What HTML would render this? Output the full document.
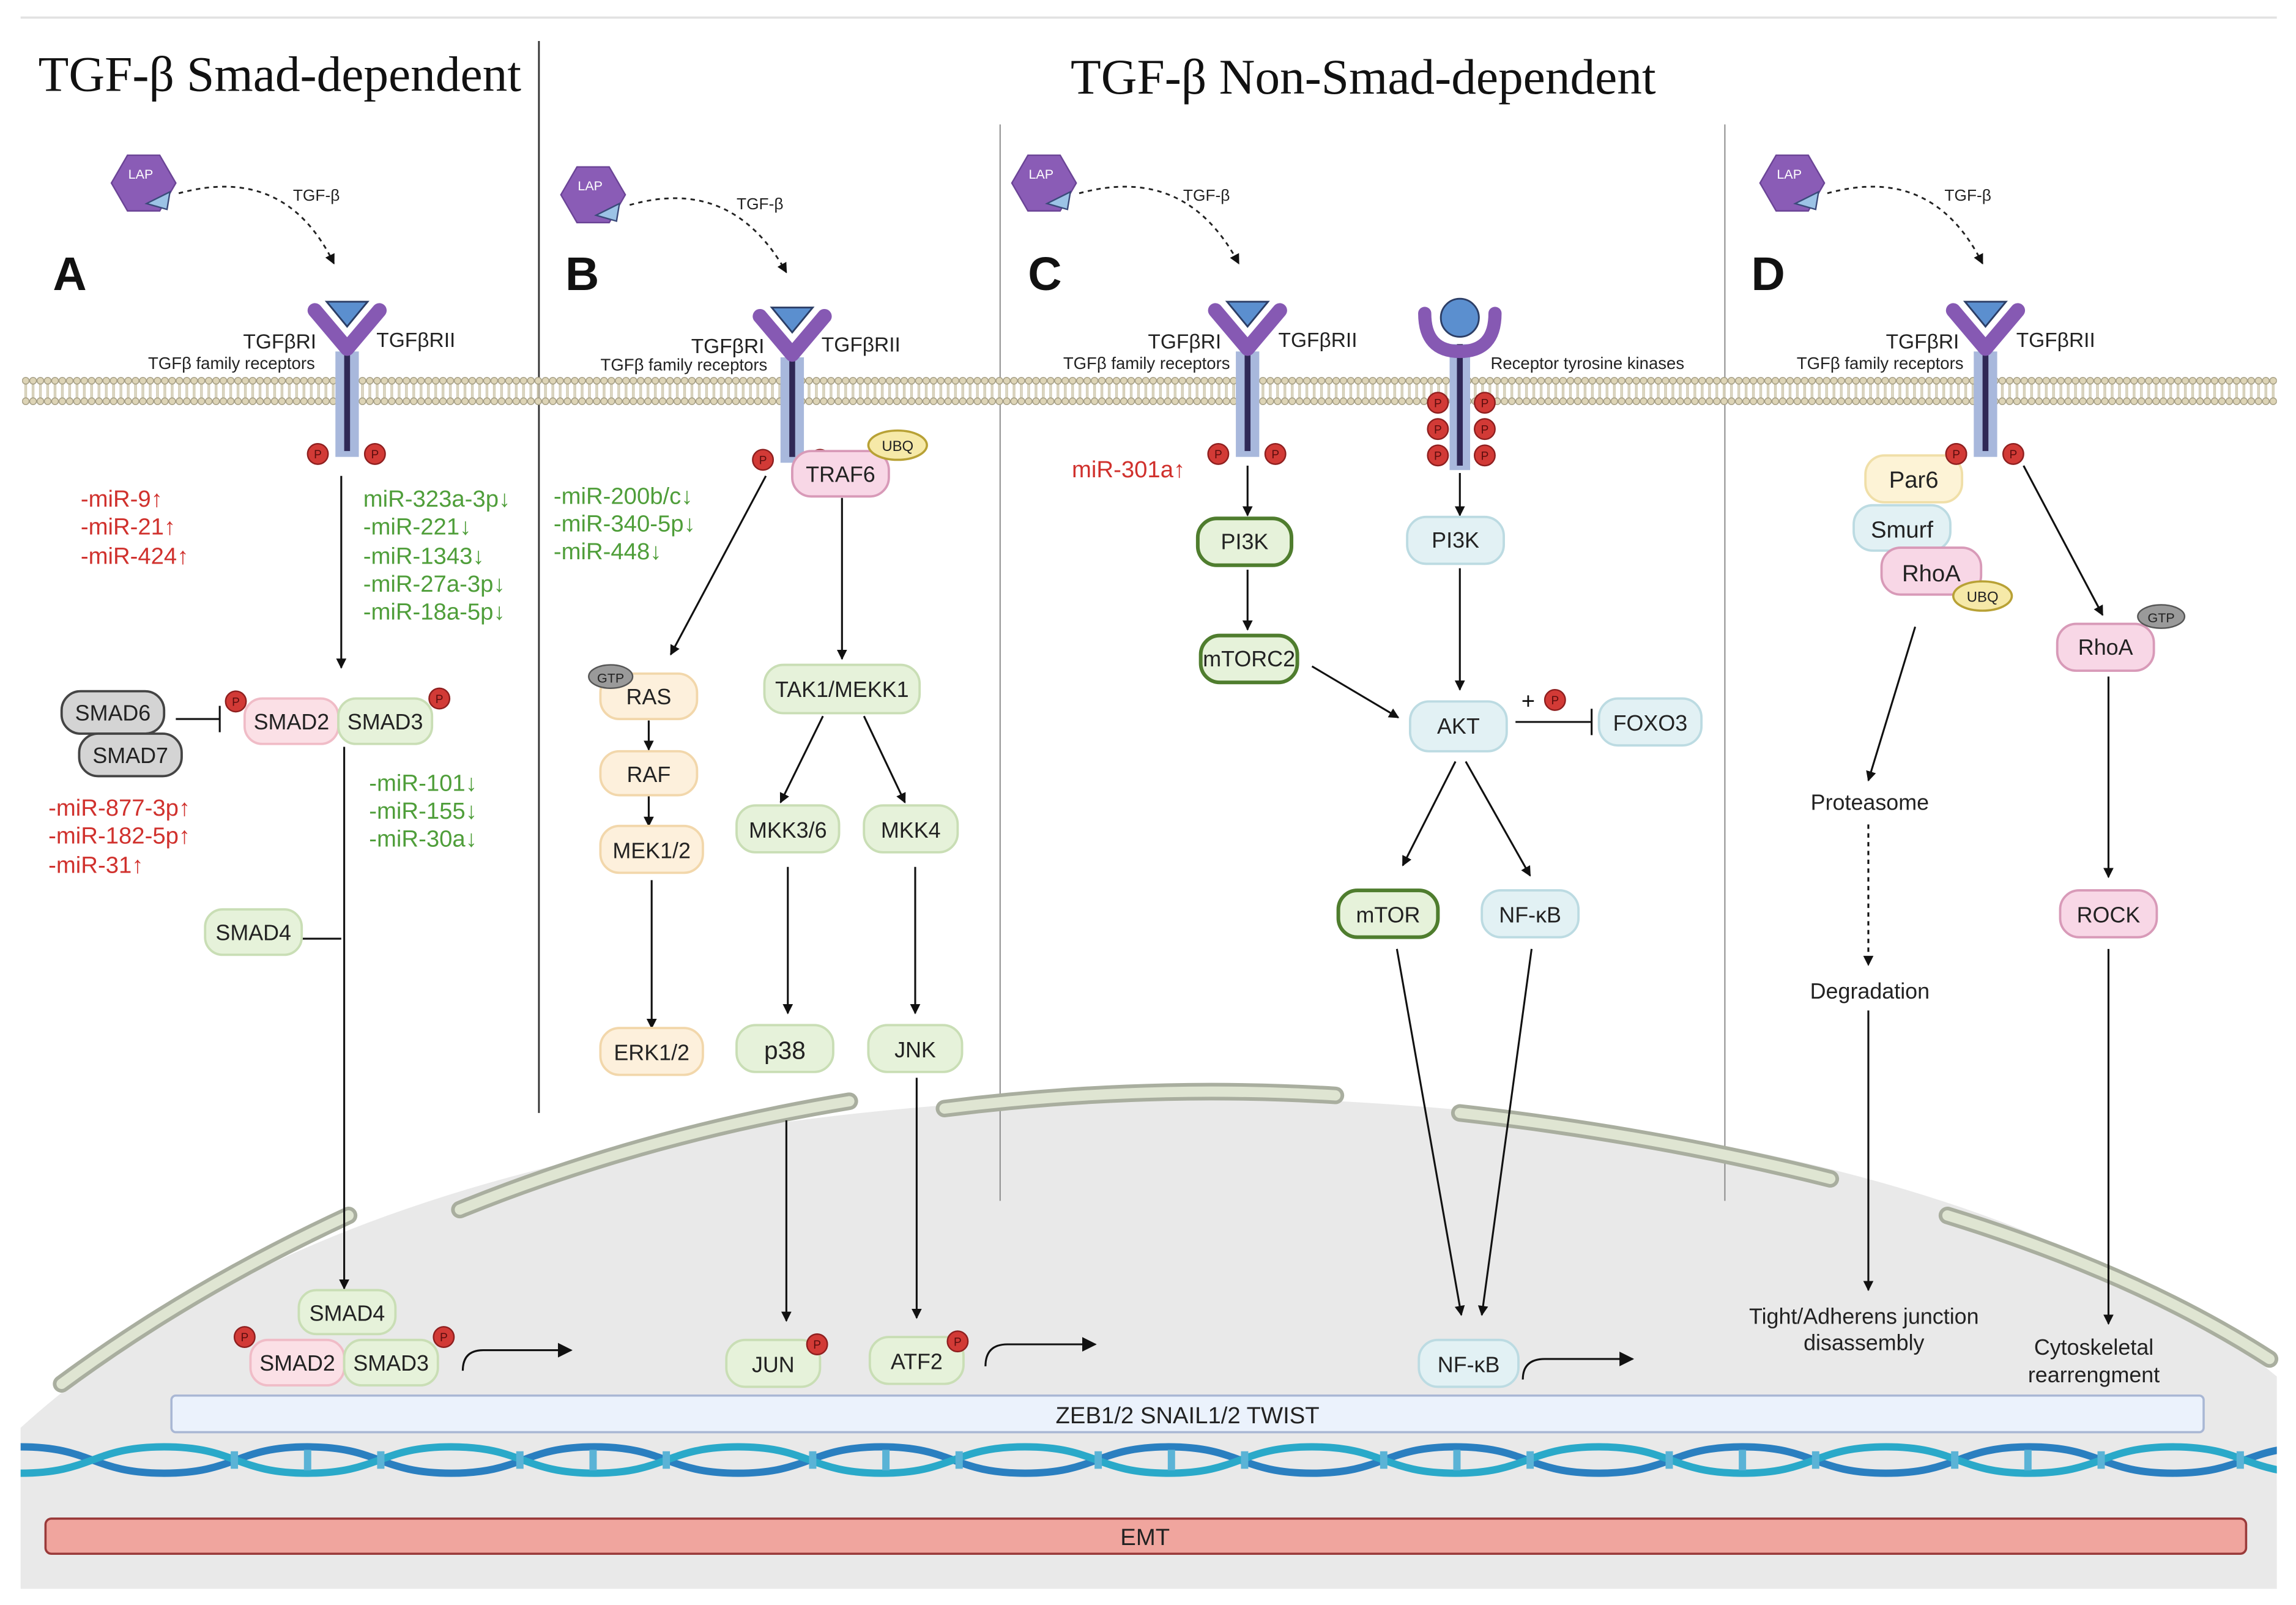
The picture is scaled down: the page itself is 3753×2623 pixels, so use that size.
<!DOCTYPE html>
<html><head><meta charset="utf-8"><style>
html,body{margin:0;padding:0;background:#fff}
svg{display:block}
text{font-family:"Liberation Sans",sans-serif}
</style></head><body>
<svg width="3753" height="2623" viewBox="0 0 1568 1096" xmlns="http://www.w3.org/2000/svg">
<defs>
<marker id="ah" viewBox="0 0 10 10" refX="9" refY="5" markerWidth="7" markerHeight="7" markerUnits="userSpaceOnUse" orient="auto"><path d="M0,0 L10,5 L0,10 z" fill="#111"/></marker>
<marker id="ah2" viewBox="0 0 10 10" refX="9" refY="5" markerWidth="10" markerHeight="10" markerUnits="userSpaceOnUse" orient="auto"><path d="M0,0 L10,5 L0,10 z" fill="#111"/></marker>
<pattern id="memb" x="0" y="257" width="5" height="20" patternUnits="userSpaceOnUse">
<line x1="2" y1="5" x2="2" y2="15" stroke="#cfc8ae" stroke-width="0.8"/>
<line x1="3" y1="5" x2="3" y2="15" stroke="#cfc8ae" stroke-width="0.8"/>
<circle cx="2.5" cy="3" r="2.3" fill="#ddd4b6" stroke="#a39c82" stroke-width="0.6"/>
<circle cx="2.5" cy="17" r="2.3" fill="#ddd4b6" stroke="#a39c82" stroke-width="0.6"/>
</pattern>
<g id="lap">
<polygon points="-22,0 -11,-19 11,-19 22,0 11,19 -11,19" fill="#8a5cb6" stroke="#6b4496" stroke-width="1"/>
<polygon points="2,14 18,6 16,18" fill="#9cc3e6" stroke="#3b4a7a" stroke-width="1"/>
<text x="-2" y="-3" font-size="9" fill="#fff" text-anchor="middle">LAP</text>
</g>
<g id="p"><circle r="7" fill="#d23a36" stroke="#8e1f1f" stroke-width="1"/><text y="3" font-size="8" text-anchor="middle" fill="#5a0d0d">P</text></g>
<g id="rec">
<rect x="-8" y="32" width="16" height="72" fill="#a8b8dc"/>
<line x1="0" y1="32" x2="0" y2="100" stroke="#2f2856" stroke-width="4"/>
<path d="M-22,4 L0,30 L22,4" fill="none" stroke="#8659b3" stroke-width="10" stroke-linejoin="round" stroke-linecap="round"/>
<polygon points="-14,-2 14,-2 0,15" fill="#5b8fcf" stroke="#2c3e66" stroke-width="1.2"/>
<use href="#p" x="-20" y="102"/><use href="#p" x="19" y="102"/>
</g>
</defs>

<line x1="14" y1="12" x2="1555" y2="12" stroke="#e2e2e2" stroke-width="1.5"/>

<path d="M14,1085 L14,975 Q 250,760 780,748 Q 1330,752 1555,940 L1555,1085 Z" fill="#e9e9e9"/>

<line x1="368" y1="28" x2="368" y2="760" stroke="#333" stroke-width="1.2"/>
<line x1="683" y1="85" x2="683" y2="820" stroke="#888" stroke-width="0.8"/>
<line x1="1178" y1="85" x2="1178" y2="820" stroke="#888" stroke-width="0.8"/>

<g fill="none" stroke-linecap="round">
<g stroke="#a9ae9f" stroke-width="12">
<path d="M42,945 Q 130,880 238,830"/>
<path d="M314,826 Q 440,775 580,752"/>
<path d="M645,757 Q 780,740 912,748"/>
<path d="M997,760 Q 1130,775 1250,805"/>
<path d="M1330,830 Q 1460,870 1550,928"/>
</g>
<g stroke="#dfe5d2" stroke-width="7">
<path d="M42,945 Q 130,880 238,830"/>
<path d="M314,826 Q 440,775 580,752"/>
<path d="M645,757 Q 780,740 912,748"/>
<path d="M997,760 Q 1130,775 1250,805"/>
<path d="M1330,830 Q 1460,870 1550,928"/>
</g>
</g>

<rect x="15" y="257" width="1540" height="20" fill="url(#memb)"/>

<text x="191" y="62" font-size="34" text-anchor="middle" fill="#111" style="font-family:'Liberation Serif',serif">TGF-β Smad-dependent</text>
<text x="931" y="64" font-size="34" text-anchor="middle" fill="#111" style="font-family:'Liberation Serif',serif">TGF-β Non-Smad-dependent</text>
<g font-size="32" font-weight="bold" fill="#111" style="font-family:'Liberation Serif',serif">
<text x="36" y="198">A</text><text x="386" y="198">B</text><text x="702" y="198">C</text><text x="1196" y="198">D</text>
</g>

<g font-size="11" fill="#222">
<use href="#lap" x="98" y="125"/>
<path d="M122,132 Q 195,112 228,180" fill="none" stroke="#222" stroke-dasharray="3,3" stroke-width="1.2" marker-end="url(#ah)"/>
<text x="200" y="137">TGF-β</text>
<use href="#lap" x="405" y="133"/>
<path d="M430,140 Q 500,120 537,186" fill="none" stroke="#222" stroke-dasharray="3,3" stroke-width="1.2" marker-end="url(#ah)"/>
<text x="503" y="143">TGF-β</text>
<use href="#lap" x="713" y="125"/>
<path d="M737,132 Q 810,112 846,180" fill="none" stroke="#222" stroke-dasharray="3,3" stroke-width="1.2" marker-end="url(#ah)"/>
<text x="808" y="137">TGF-β</text>
<use href="#lap" x="1224" y="125"/>
<path d="M1248,132 Q 1320,112 1354,180" fill="none" stroke="#222" stroke-dasharray="3,3" stroke-width="1.2" marker-end="url(#ah)"/>
<text x="1328" y="137">TGF-β</text>
</g>

<use href="#rec" x="237" y="208"/>
<use href="#rec" x="541" y="212"/>
<use href="#rec" x="852" y="208"/>
<use href="#rec" x="1356" y="208"/>
<g fill="#222">
<text x="216" y="238" font-size="14" text-anchor="end">TGFβRI</text><text x="257" y="237" font-size="14">TGFβRII</text>
<text x="215" y="252" font-size="11.5" text-anchor="end">TGFβ family receptors</text>
<text x="522" y="241" font-size="14" text-anchor="end">TGFβRI</text><text x="561" y="240" font-size="14">TGFβRII</text>
<text x="524" y="253" font-size="11.5" text-anchor="end">TGFβ family receptors</text>
<text x="834" y="238" font-size="14" text-anchor="end">TGFβRI</text><text x="873" y="237" font-size="14">TGFβRII</text>
<text x="840" y="252" font-size="11.5" text-anchor="end">TGFβ family receptors</text>
<text x="1338" y="238" font-size="14" text-anchor="end">TGFβRI</text><text x="1377" y="237" font-size="14">TGFβRII</text>
<text x="1341" y="252" font-size="11.5" text-anchor="end">TGFβ family receptors</text>
<text x="1018" y="252" font-size="11.5">Receptor tyrosine kinases</text>
</g>
<g>
<rect x="990" y="235" width="14" height="86" fill="#a8b8dc"/>
<line x1="997" y1="235" x2="997" y2="318" stroke="#2f2856" stroke-width="4"/>
<path d="M973,214 Q 973,240 997,240 Q 1021,240 1021,214" fill="none" stroke="#8659b3" stroke-width="9" stroke-linecap="round"/>
<circle cx="997" cy="217" r="13" fill="#5b8fcf" stroke="#2c3e66" stroke-width="1.2"/>
<use href="#p" x="982" y="275"/><use href="#p" x="1014" y="275"/>
<use href="#p" x="982" y="293"/><use href="#p" x="1014" y="293"/>
<use href="#p" x="982" y="311"/><use href="#p" x="1014" y="311"/>
</g>

<g stroke="#111" stroke-width="1.3" fill="none" marker-end="url(#ah)">
<line x1="233" y1="325" x2="233" y2="456"/>
<line x1="235" y1="510" x2="235" y2="880"/>
<line x1="523" y1="325" x2="458" y2="447"/>
<line x1="575" y1="340" x2="575" y2="450"/>
<line x1="443" y1="492" x2="443" y2="512"/>
<line x1="443" y1="543" x2="443" y2="564"/>
<line x1="445" y1="601" x2="445" y2="702"/>
<line x1="562" y1="489" x2="533" y2="548"/>
<line x1="590" y1="489" x2="618" y2="548"/>
<line x1="538" y1="592" x2="538" y2="692"/>
<line x1="625" y1="592" x2="625" y2="692"/>
<line x1="537" y1="765" x2="537" y2="902"/>
<line x1="626" y1="736" x2="626" y2="900"/>
<line x1="852" y1="318" x2="852" y2="352"/>
<line x1="852" y1="389" x2="852" y2="430"/>
<line x1="896" y1="455" x2="955" y2="490"/>
<line x1="997" y1="323" x2="997" y2="352"/>
<line x1="997" y1="388" x2="997" y2="471"/>
<line x1="994" y1="520" x2="958" y2="591"/>
<line x1="1001" y1="520" x2="1045" y2="598"/>
<line x1="954" y1="648" x2="998" y2="898"/>
<line x1="1046" y1="648" x2="1012" y2="898"/>
<line x1="1308" y1="428" x2="1276" y2="533"/>
<line x1="1276" y1="563" x2="1276" y2="659" stroke-dasharray="3,3"/>
<line x1="1276" y1="690" x2="1276" y2="881"/>
<line x1="1382" y1="318" x2="1436" y2="420"/>
<line x1="1440" y1="462" x2="1440" y2="599"/>
<line x1="1440" y1="648" x2="1440" y2="904"/>
</g>
<g stroke="#111" stroke-width="1.3" fill="none" marker-end="url(#ah2)">
<path d="M316,936 Q 316,922 330,922 L390,922"/>
<path d="M673,933 Q 673,918 688,918 L748,918"/>
<path d="M1040,942 Q 1040,928 1055,928 L1115,928"/>
</g>
<g stroke="#111" stroke-width="1.3">
<line x1="120" y1="491" x2="150" y2="491"/><line x1="150" y1="482" x2="150" y2="500"/>
<line x1="205" y1="641" x2="233" y2="641"/>
<line x1="1035" y1="493" x2="1087" y2="493"/><line x1="1087" y1="484" x2="1087" y2="502"/>
</g>
<text x="1039" y="484" font-size="16" fill="#111">+</text>
<use href="#p" x="1062" y="478"/>

<g font-size="15" text-anchor="middle" fill="#222" stroke-width="1.6">
<rect x="42" y="472" width="70" height="29" rx="13" fill="#d4d4d4" stroke="#444"/>
<text x="77" y="492">SMAD6</text>
<rect x="54" y="501" width="70" height="29" rx="13" fill="#d4d4d4" stroke="#444"/>
<text x="89" y="521">SMAD7</text>
<rect x="167" y="477" width="64" height="31" rx="12" fill="#fbe0e6" stroke="#f0bcc7"/>
<text x="199" y="498">SMAD2</text>
<rect x="231" y="477" width="64" height="31" rx="12" fill="#e6f2da" stroke="#c9deb5"/>
<text x="263" y="498">SMAD3</text>
<rect x="140" y="621" width="66" height="31" rx="12" fill="#e6f2da" stroke="#c9deb5"/>
<text x="173" y="642">SMAD4</text>
<rect x="204" y="881" width="66" height="30" rx="12" fill="#e6f2da" stroke="#c9deb5"/>
<text x="237" y="902">SMAD4</text>
<rect x="171" y="915" width="64" height="31" rx="12" fill="#fbe0e6" stroke="#f0bcc7"/>
<text x="203" y="936">SMAD2</text>
<rect x="235" y="915" width="64" height="31" rx="12" fill="#e6f2da" stroke="#c9deb5"/>
<text x="267" y="936">SMAD3</text>
<rect x="541" y="308" width="66" height="31" rx="13" fill="#f8d7e6" stroke="#d89ab8"/>
<text x="574" y="329">TRAF6</text>
<rect x="410" y="460" width="66" height="31" rx="13" fill="#fdf0dc" stroke="#f2d7ab"/>
<text x="443" y="481">RAS</text>
<rect x="410" y="513" width="66" height="30" rx="13" fill="#fdf0dc" stroke="#f2d7ab"/>
<text x="443" y="534">RAF</text>
<rect x="410" y="564" width="70" height="32" rx="13" fill="#fdf0dc" stroke="#f2d7ab"/>
<text x="445" y="586">MEK1/2</text>
<rect x="410" y="702" width="70" height="32" rx="13" fill="#fdf0dc" stroke="#f2d7ab"/>
<text x="445" y="724">ERK1/2</text>
<rect x="522" y="454" width="106" height="33" rx="13" fill="#e6f2da" stroke="#c9deb5"/>
<text x="575" y="476">TAK1/MEKK1</text>
<rect x="503" y="550" width="70" height="32" rx="13" fill="#e6f2da" stroke="#c9deb5"/>
<text x="538" y="572">MKK3/6</text>
<rect x="590" y="550" width="64" height="32" rx="13" fill="#e6f2da" stroke="#c9deb5"/>
<text x="622" y="572">MKK4</text>
<rect x="503" y="700" width="66" height="32" rx="13" fill="#e6f2da" stroke="#c9deb5"/>
<text x="536" y="723" font-size="17">p38</text>
<rect x="593" y="700" width="64" height="32" rx="13" fill="#e6f2da" stroke="#c9deb5"/>
<text x="625" y="722">JNK</text>
<rect x="496" y="915" width="64" height="32" rx="13" fill="#e6f2da" stroke="#c9deb5"/>
<text x="528" y="937">JUN</text>
<rect x="594" y="913" width="64" height="32" rx="13" fill="#e6f2da" stroke="#c9deb5"/>
<text x="626" y="935">ATF2</text>
<rect x="818" y="354" width="64" height="32" rx="13" fill="#e6f2da" stroke="#4f7d2e" stroke-width="2.5"/>
<text x="850" y="375">PI3K</text>
<rect x="820" y="434" width="66" height="32" rx="13" fill="#e6f2da" stroke="#4f7d2e" stroke-width="2.5"/>
<text x="853" y="455">mTORC2</text>
<rect x="914" y="608" width="68" height="32" rx="13" fill="#e6f2da" stroke="#4f7d2e" stroke-width="2.5"/>
<text x="948" y="630">mTOR</text>
<rect x="961" y="353" width="66" height="32" rx="13" fill="#e2f1f4" stroke="#bcdbe2"/>
<text x="994" y="374">PI3K</text>
<rect x="963" y="479" width="66" height="34" rx="13" fill="#e2f1f4" stroke="#bcdbe2"/>
<text x="996" y="501">AKT</text>
<rect x="1092" y="477" width="70" height="32" rx="13" fill="#e2f1f4" stroke="#bcdbe2"/>
<text x="1127" y="499">FOXO3</text>
<rect x="1012" y="608" width="66" height="32" rx="13" fill="#e2f1f4" stroke="#bcdbe2"/>
<text x="1045" y="630">NF-κB</text>
<rect x="969" y="915" width="68" height="32" rx="13" fill="#e2f1f4" stroke="#bcdbe2"/>
<text x="1003" y="937">NF-κB</text>
<rect x="1274" y="311" width="66" height="32" rx="13" fill="#fdf3d6" stroke="#f0dfa8"/>
<text x="1307" y="333" font-size="16">Par6</text>
<rect x="1266" y="345" width="66" height="31" rx="13" fill="#e2f1f4" stroke="#bcdbe2"/>
<text x="1299" y="367" font-size="16">Smurf</text>
<rect x="1285" y="374" width="68" height="32" rx="13" fill="#f8d7e6" stroke="#d89ab8"/>
<text x="1319" y="397" font-size="16">RhoA</text>
<rect x="1405" y="426" width="66" height="32" rx="13" fill="#f8d7e6" stroke="#d89ab8"/>
<text x="1438" y="447">RhoA</text>
<rect x="1407" y="608" width="66" height="32" rx="13" fill="#f8d7e6" stroke="#d89ab8"/>
<text x="1440" y="630">ROCK</text>
</g>
<g font-size="10" text-anchor="middle" fill="#222">
<ellipse cx="613" cy="304" rx="20" ry="10" fill="#f6e9a8" stroke="#b8a135" stroke-width="1.5"/><text x="613" y="308">UBQ</text>
<ellipse cx="1354" cy="407" rx="20" ry="10" fill="#f6e9a8" stroke="#b8a135" stroke-width="1.5"/><text x="1354" y="411">UBQ</text>
<ellipse cx="417" cy="462" rx="15" ry="8" fill="#9a9a9a" stroke="#555"/><text x="417" y="466" font-size="9">GTP</text>
<ellipse cx="1476" cy="421" rx="16" ry="8" fill="#9a9a9a" stroke="#555"/><text x="1476" y="425" font-size="9">GTP</text>
</g>
<use href="#p" x="161" y="479"/><use href="#p" x="300" y="477"/>
<use href="#p" x="167" y="913"/><use href="#p" x="303" y="913"/>
<use href="#p" x="558" y="918"/><use href="#p" x="654" y="916"/>
<use href="#p" x="1336" y="310"/>

<g font-size="15" fill="#222" text-anchor="middle">
<text x="1277" y="553">Proteasome</text>
<text x="1277" y="682">Degradation</text>
<text x="1273" y="904">Tight/Adherens junction</text>
<text x="1273" y="922">disassembly</text>
<text x="1430" y="925">Cytoskeletal</text>
<text x="1430" y="944">rearrengment</text>
</g>

<g font-size="16" fill="#d0312d">
<text x="55" y="346">-miR-9↑</text>
<text x="55" y="365">-miR-21↑</text>
<text x="55" y="385">-miR-424↑</text>
<text x="33" y="557">-miR-877-3p↑</text>
<text x="33" y="576">-miR-182-5p↑</text>
<text x="33" y="596">-miR-31↑</text>
<text x="732" y="326">miR-301a↑</text>
</g>
<g font-size="16" fill="#4f9e3a">
<text x="248" y="346">miR-323a-3p↓</text>
<text x="248" y="365">-miR-221↓</text>
<text x="248" y="385">-miR-1343↓</text>
<text x="248" y="404">-miR-27a-3p↓</text>
<text x="248" y="423">-miR-18a-5p↓</text>
<text x="252" y="540">-miR-101↓</text>
<text x="252" y="559">-miR-155↓</text>
<text x="252" y="578">-miR-30a↓</text>
<text x="378" y="344">-miR-200b/c↓</text>
<text x="378" y="363">-miR-340-5p↓</text>
<text x="378" y="382">-miR-448↓</text>
</g>

<rect x="117" y="953" width="1388" height="25" rx="3" fill="#ebf2fc" stroke="#a9b7d4" stroke-width="1.5"/>
<text x="811" y="972" font-size="16" text-anchor="middle" fill="#222">ZEB1/2  SNAIL1/2  TWIST</text>

<g fill="none" stroke-width="5">
<path d="M14,988 C 63,988 63,1006 112,1006 S 161,988 210,988 S 259,1006 308,1006 S 357,988 406,988 S 455,1006 504,1006 S 553,988 602,988 S 651,1006 700,1006 S 749,988 798,988 S 847,1006 896,1006 S 945,988 994,988 S 1043,1006 1092,1006 S 1141,988 1190,988 S 1239,1006 1288,1006 S 1337,988 1386,988 S 1435,1006 1484,1006 S 1533,988 1582,988" stroke="#2a7fc0"/>
<path d="M14,1006 C 63,1006 63,988 112,988 S 161,1006 210,1006 S 259,988 308,988 S 357,1006 406,1006 S 455,988 504,988 S 553,1006 602,1006 S 651,988 700,988 S 749,1006 798,1006 S 847,988 896,988 S 945,1006 994,1006 S 1043,988 1092,988 S 1141,1006 1190,1006 S 1239,988 1288,988 S 1337,1006 1386,1006 S 1435,988 1484,988 S 1533,1006 1582,1006" stroke="#2aa9c9"/>
</g>
<g stroke="#5ab3d6" stroke-width="5">
<line x1="160" y1="991" x2="160" y2="1003"/><line x1="210" y1="990" x2="210" y2="1004"/><line x1="260" y1="991" x2="260" y2="1003"/>
<line x1="355" y1="991" x2="355" y2="1003"/><line x1="405" y1="990" x2="405" y2="1004"/><line x1="455" y1="991" x2="455" y2="1003"/>
<line x1="555" y1="991" x2="555" y2="1003"/><line x1="605" y1="990" x2="605" y2="1004"/><line x1="655" y1="991" x2="655" y2="1003"/>
<line x1="750" y1="991" x2="750" y2="1003"/><line x1="800" y1="990" x2="800" y2="1004"/><line x1="850" y1="991" x2="850" y2="1003"/>
<line x1="945" y1="991" x2="945" y2="1003"/><line x1="995" y1="990" x2="995" y2="1004"/><line x1="1045" y1="991" x2="1045" y2="1003"/>
<line x1="1140" y1="991" x2="1140" y2="1003"/><line x1="1190" y1="990" x2="1190" y2="1004"/><line x1="1240" y1="991" x2="1240" y2="1003"/>
<line x1="1335" y1="991" x2="1335" y2="1003"/><line x1="1385" y1="990" x2="1385" y2="1004"/><line x1="1435" y1="991" x2="1435" y2="1003"/>
<line x1="1530" y1="991" x2="1530" y2="1003"/>
</g>
<rect x="1555" y="980" width="20" height="35" fill="#fff"/>

<rect x="31" y="1037" width="1503" height="24" rx="4" fill="#f0a59e" stroke="#9a3a3a" stroke-width="1.5"/>
<text x="782" y="1055" font-size="16" text-anchor="middle" fill="#222">EMT</text>
</svg>
</body></html>
